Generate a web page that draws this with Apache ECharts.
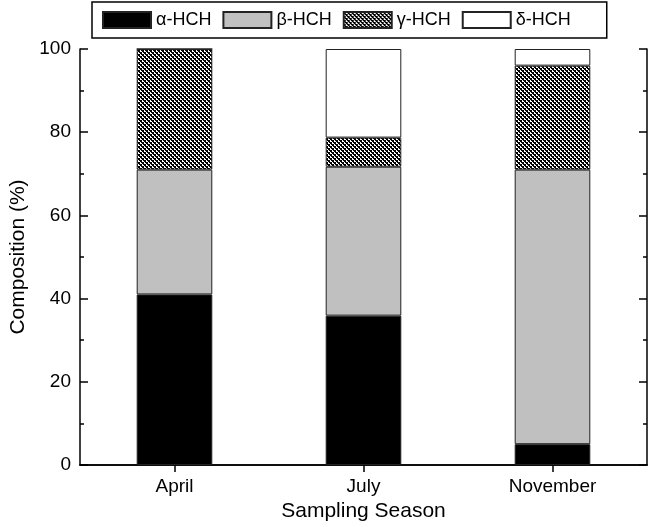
<!DOCTYPE html>
<html>
<head>
<meta charset="utf-8">
<script src="https://cdn.jsdelivr.net/npm/echarts@6/dist/echarts.min.js"></script>
<style>
  html, body { margin: 0; padding: 0; background: #fff; }
  #chart { width: 652px; height: 527px; }
</style>
</head>
<body>
<div id="chart"></div>
<script>
// categories and stacked composition (%)
const seasons = ['April', 'July', 'November'];
const alphaHCH = [41, 35.9, 5];
const betaHCH = [30, 35.8, 66];
const gammaHCH = [29, 7, 25];
const deltaHCH = [0, 21.3, 4];
const yTicks = [0, 20, 40, 60, 80, 100];

// crosshatch tile for the gamma series
const makeHatch = () => {
    const c = document.createElement('canvas');
    c.width = 4;
    c.height = 4;
    const ctx = c.getContext('2d');
    ctx.fillStyle = '#fff';
    ctx.fillRect(0, 0, 4, 4);
    ctx.fillStyle = '#000';
    ctx.fillRect(0, 0, 2, 2);
    ctx.fillRect(2, 2, 2, 2);
    ctx.fillRect(1, 2, 1, 1);
    ctx.fillRect(3, 0, 1, 1);
    return c;
};
const hatch = { image: makeHatch(), repeat: 'repeat' };

const font = 'Liberation Sans, Arial, sans-serif';
const chart = echarts.init(document.getElementById('chart'));

const barSeries = (name, data, color) => ({
    name: name,
    type: 'bar',
    stack: 'total',
    data: data,
    barWidth: '40%',
    itemStyle: { color: color, borderColor: '#222', borderWidth: 1 },
    emphasis: { disabled: true },
});

const catAxis = (pos, showLabel) => ({
    type: 'category',
    data: seasons,
    position: pos,
    axisLine: { lineStyle: { color: '#000', width: 1.5 } },
    axisTick: { show: true, inside: true, alignWithLabel: true, length: 7, lineStyle: { color: '#000', width: 1.5 } },
    axisLabel: { show: showLabel, color: '#000', fontSize: 19, fontFamily: font, margin: 12 },
    name: showLabel ? 'Sampling Season' : '',
    nameLocation: 'middle',
    nameGap: 36,
    nameTextStyle: { color: '#000', fontSize: 21, fontFamily: font },
});

const valAxis = (pos, showLabel) => ({
    type: 'value',
    min: 0,
    max: 100,
    interval: 20,
    position: pos,
    axisLine: { show: true, lineStyle: { color: '#000', width: 1.5 } },
    axisTick: { show: true, inside: true, length: 8, lineStyle: { color: '#000', width: 1.5 } },
    minorTick: { show: true, splitNumber: 2, length: 4, lineStyle: { color: '#000', width: 1.5 } },
    splitLine: { show: false },
    axisLabel: {
        show: showLabel,
        color: '#000',
        fontSize: 19,
        fontFamily: font,
        margin: 9,
        formatter: (v) => (yTicks.includes(v) ? String(v) : ''),
    },
    name: showLabel ? 'Composition (%)' : '',
    nameLocation: 'middle',
    nameGap: 42,
    nameTextStyle: { color: '#000', fontSize: 21, fontFamily: font },
});

chart.setOption({
    animation: false,
    backgroundColor: '#fff',
    grid: { left: 80, right: 5, top: 49, bottom: 62, outerBoundsMode: 'none' },
    legend: {
        left: 92,
        top: 2,
        padding: [9, 36, 9, 10],
        icon: 'rect',
        itemWidth: 48,
        itemHeight: 16,
        itemGap: 11,
        borderColor: '#000',
        borderWidth: 1.5,
        textStyle: { color: '#000', fontSize: 18, fontFamily: font },
        data: ['α-HCH', 'β-HCH', 'γ-HCH', 'δ-HCH'],
    },
    xAxis: [catAxis('bottom', true), catAxis('top', false)],
    yAxis: [valAxis('left', true), valAxis('right', false)],
    series: [
        barSeries('α-HCH', alphaHCH, '#000'),
        barSeries('β-HCH', betaHCH, '#c0c0c0'),
        barSeries('γ-HCH', gammaHCH, hatch),
        barSeries('δ-HCH', deltaHCH, '#fff'),
    ],
});
</script>
</body>
</html>
